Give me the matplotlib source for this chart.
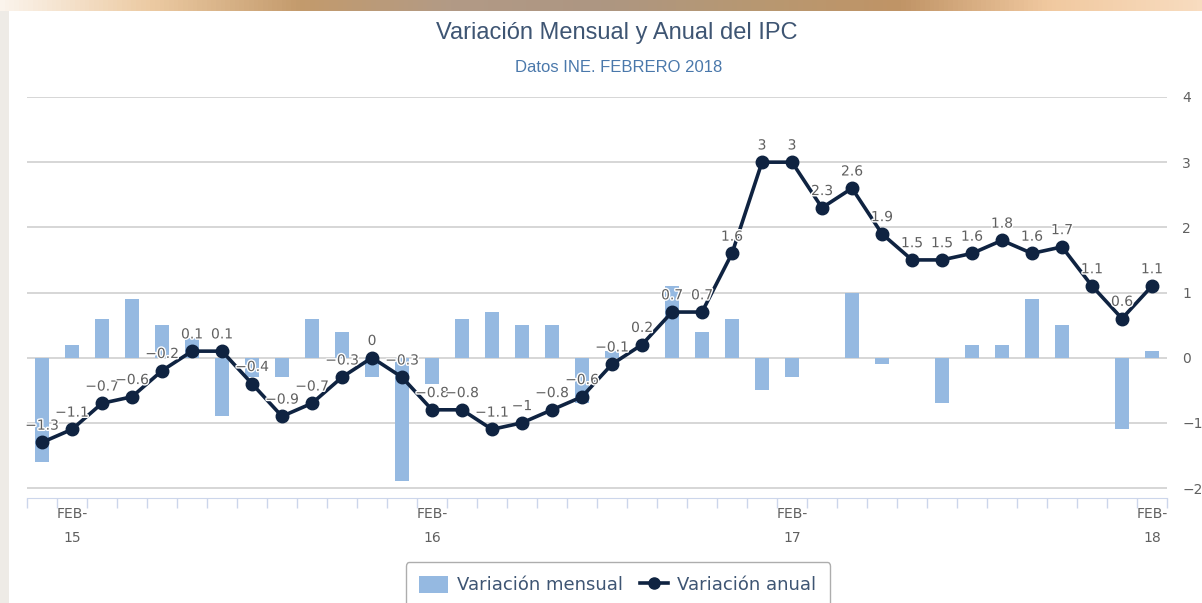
import numpy as np
import matplotlib
matplotlib.use("Agg")
import matplotlib.pyplot as plt
import matplotlib.patheffects as pe
from matplotlib.colors import LinearSegmentedColormap
from matplotlib.lines import Line2D
from matplotlib.patches import Patch

# ---------------------------------------------------------------------------
# Data (INE, IPC, Jan 2015 .. Feb 2018)
# ---------------------------------------------------------------------------
months = [f"{m}-{y}" for y in (15, 16, 17) for m in
          ("ENE", "FEB", "MAR", "ABR", "MAY", "JUN", "JUL", "AGO", "SEP", "OCT", "NOV", "DIC")]
months += ["ENE-18", "FEB-18"]

mensual = [-1.6, 0.2, 0.6, 0.9, 0.5, 0.3, -0.9, -0.3, -0.3, 0.6, 0.4, -0.3,
           -1.9, -0.4, 0.6, 0.7, 0.5, 0.5, -0.7, 0.1, 0.0, 1.1, 0.4, 0.6,
           -0.5, -0.3, 0.0, 1.0, -0.1, 0.0, -0.7, 0.2, 0.2, 0.9, 0.5, 0.0,
           -1.1, 0.1]

anual = [-1.3, -1.1, -0.7, -0.6, -0.2, 0.1, 0.1, -0.4, -0.9, -0.7, -0.3, 0,
         -0.3, -0.8, -0.8, -1.1, -1, -0.8, -0.6, -0.1, 0.2, 0.7, 0.7, 1.6,
         3, 3, 2.3, 2.6, 1.9, 1.5, 1.5, 1.6, 1.8, 1.6, 1.7, 1.1,
         0.6, 1.1]

xlabel_idx = [1, 13, 25, 37]
xlabel_txt = ["FEB-\n15", "FEB-\n16", "FEB-\n17", "FEB-\n18"]
yticks = [-2, -1, 0, 1, 2, 3, 4]

BAR_COLOR = "#95b9e1"
LINE_COLOR = "#0f2341"
TEXT_GRAY = "#606060"

W, H = 1202, 603
fig = plt.figure(figsize=(W / 100, H / 100), dpi=100)
fig.patch.set_facecolor("white")

# decorative page border (top gradient strip and left strip)
strip = fig.add_axes([0, 1 - 11 / H, 1, 11 / H])
cmap = LinearSegmentedColormap.from_list(
    "strip", ["#fbf4ec", "#eccaa2", "#c39a6c", "#b29a86", "#ad9682",
              "#b79872", "#c09466", "#f1c9a0", "#f8dcc0"])
strip.imshow(np.linspace(0, 1, 256)[None, :], aspect="auto", cmap=cmap)
strip.axis("off")
side = fig.add_axes([0, 0, 9 / W, 1 - 11 / H])
side.set_facecolor("#eeebe6")
side.set_xticks([])
side.set_yticks([])
for s in side.spines.values():
    s.set_visible(False)

# ---------------------------------------------------------------------------
# Main chart
# ---------------------------------------------------------------------------
left, right = 27 / W, 1167 / W
bottom, top = (H - 498) / H, (H - 97) / H
ax = fig.add_axes([left, bottom, right - left, top - bottom])
x = np.arange(len(months))

ax.bar(x, mensual, width=0.46, color=BAR_COLOR, zorder=2)
ax.plot(x, anual, color=LINE_COLOR, lw=2.6, marker="o", ms=9,
        markerfacecolor=LINE_COLOR, markeredgecolor=LINE_COLOR, zorder=3)

for xi, v in zip(x, anual):
    ax.annotate(f"{v:g}".replace("-", "\u2212"), (xi, v), xytext=(0, 7),
                textcoords="offset points", ha="center", va="bottom",
                fontsize=10, color=TEXT_GRAY, zorder=4,
                path_effects=[pe.withStroke(linewidth=2, foreground="white")])

ax.set_xlim(-0.5, len(months) - 0.5)
ax.set_ylim(-2 - 10 / 65.2, 4)
ax.set_yticks(yticks)
ax.yaxis.tick_right()
ax.tick_params(axis="y", length=0, pad=11, labelsize=10, labelcolor=TEXT_GRAY)
ax.grid(axis="y", color="#d0d0d0", lw=1.2, zorder=0)

ax.set_xticks(np.arange(len(months) + 1) - 0.5)
ax.set_xticklabels([])
ax.tick_params(axis="x", length=7, color="#ccd6eb", width=1)
for xi, lab in zip(xlabel_idx, xlabel_txt):
    ax.text(xi, -0.022, lab, transform=ax.get_xaxis_transform(), ha="center",
            va="top", fontsize=10, color=TEXT_GRAY, linespacing=1.9)

for name, s in ax.spines.items():
    s.set_visible(name == "bottom")
ax.spines["bottom"].set_color("#ccd6eb")

fig.text(617 / W, 1 - 33 / H, "Variación Mensual y Anual del IPC",
         ha="center", va="center", fontsize=17, color="#3e5573",
         family="Liberation Sans")
fig.text(619 / W, 1 - 68 / H, "Datos INE. FEBRERO 2018",
         ha="center", va="center", fontsize=12, color="#4a78ab",
         family="Liberation Sans")

handles = [Patch(facecolor=BAR_COLOR, edgecolor="none", label="Variación mensual"),
           Line2D([], [], color=LINE_COLOR, lw=2.6, marker="o", ms=8,
                  label="Variación anual")]
leg = fig.legend(handles=handles, loc="center", bbox_to_anchor=(618 / W, 1 - 585 / H),
                 ncol=2, frameon=True, fontsize=13, handlelength=1.6,
                 handleheight=1.1, columnspacing=0.9, handletextpad=0.5,
                 borderpad=0.75, borderaxespad=0, fancybox=True)
leg.get_frame().set_edgecolor("#999999")
leg.get_frame().set_linewidth(1)
for t in leg.get_texts():
    t.set_color("#3e5573")

fig.savefig("out.png", dpi=100)
